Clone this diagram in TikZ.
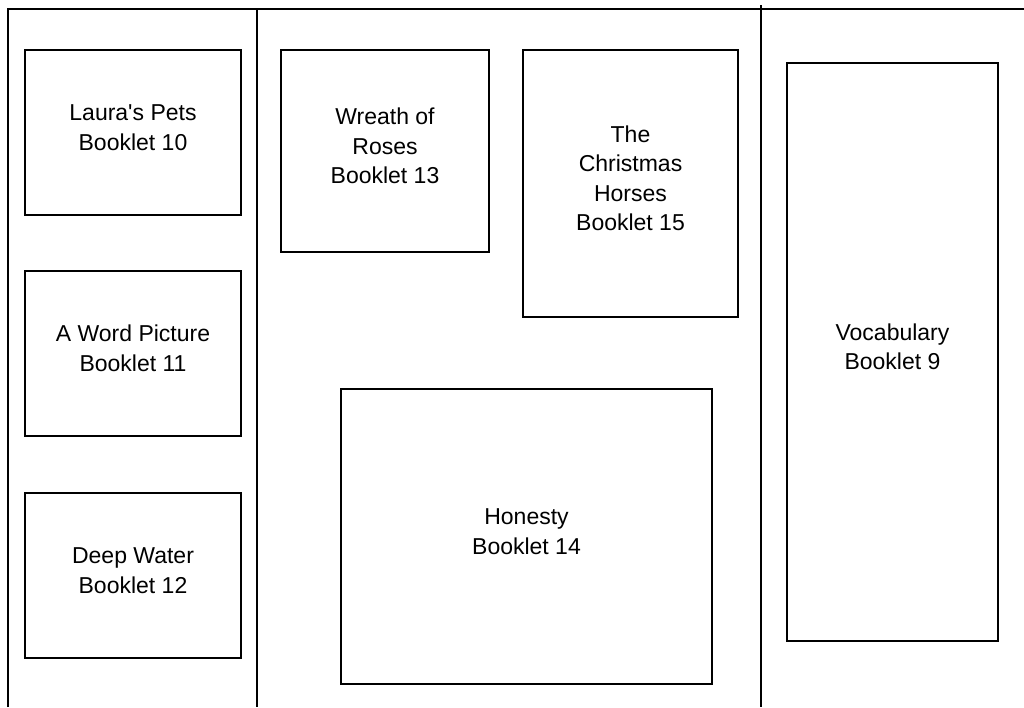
\documentclass[tikz,border=0pt]{standalone}
\usepackage{fontspec}
\setmainfont{Liberation Sans}
\begin{document}
\begin{tikzpicture}[x=1pt,y=-1pt,
  booklet/.style={draw, line width=2pt, inner sep=0pt},
  label/.style={font=\fontsize{23}{29.5}\selectfont, align=center},
  divider/.style={line width=2pt}]
\useasboundingbox (0,0) rectangle (1024,707);
% frame and dividers
\coordinate (tl) at (8,9);
\coordinate (bl) at (8,707);
\coordinate (tr) at (1024,9);
\coordinate (d1t) at (257,9);
\coordinate (d1b) at (257,707);
\coordinate (d2t) at (761,5);
\coordinate (d2b) at (761,707);
\draw[divider] (bl) -- (tl) -- (tr);
\draw[divider] (d1t) -- (d1b);
\draw[divider] (d2t) -- (d2b);
% booklets
\node[booklet, minimum width=216, minimum height=165] (b10) at (133,132.5) {};
\node[label] (t10) at ([yshift=5]b10.center) {Laura\textquotesingle s Pets\\Booklet 10};
\node[booklet, minimum width=216, minimum height=165] (b11) at (133,353.5) {};
\node[label] (t11) at ([yshift=5]b11.center) {A Word Picture\\Booklet 11};
\node[booklet, minimum width=216, minimum height=165] (b12) at (133,575.5) {};
\node[label] (t12) at ([yshift=5]b12.center) {Deep Water\\Booklet 12};
\node[booklet, minimum width=208, minimum height=202] (b13) at (385,151) {};
\node[label] (t13) at ([yshift=5]b13.center) {Wreath of\\Roses\\Booklet 13};
\node[booklet, minimum width=215, minimum height=267] (b15) at (630.5,183.5) {};
\node[label] (t15) at ([yshift=5]b15.center) {The\\Christmas\\Horses\\Booklet 15};
\node[booklet, minimum width=371, minimum height=295] (b14) at (526.5,536.5) {};
\node[label] (t14) at ([yshift=5]b14.center) {Honesty\\Booklet 14};
\node[booklet, minimum width=211, minimum height=578] (b9) at (892.5,352) {};
\node[label] (t9) at ([yshift=5]b9.center) {Vocabulary\\Booklet 9};
\end{tikzpicture}
\end{document}
